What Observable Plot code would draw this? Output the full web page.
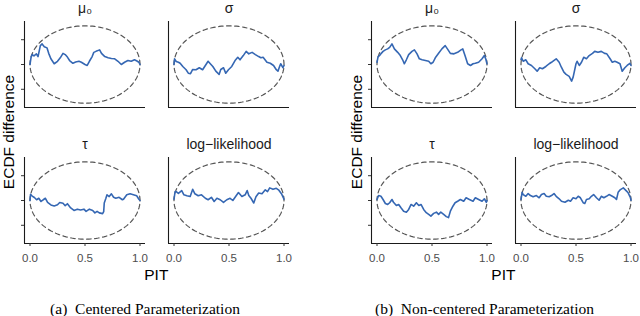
<!DOCTYPE html>
<html><head><meta charset="utf-8">
<script src="https://cdn.jsdelivr.net/npm/d3@7"></script>
<script src="https://cdn.jsdelivr.net/npm/@observablehq/plot@0.6"></script>
<style>
html,body{margin:0;padding:0;background:#fff;}
#fig{position:relative;width:640px;height:316px;overflow:hidden;font-family:"Liberation Sans",Arial,sans-serif;}
.panel{position:absolute;top:0;width:320px;height:290px;}
.cap{position:absolute;top:301px;font-family:"Liberation Serif","Times New Roman",serif;font-size:15.5px;line-height:16px;white-space:pre;transform:translateX(-50%);color:#000;}
</style></head><body><div id="fig"></div>
<script>
const pitTicks = [0, 0.5, 1];
const diffTicks = [-0.1, 0, 0.1];
const facetTitles = ["μ₀", "σ", "τ", "log−likelihood"];
const captions = ["(a)  Centered Parameterization", "(b)  Non-centered Parameterization"];
const bandHalfHeight = 0.156;

// (a) Centered parameterization: [PIT, ECDF difference]
const muC = [[0,0],[0.01,0.03],[0.02,0.04],[0.036,0.035],[0.058,0.043],[0.073,0.032],[0.094,0.076],[0.11,0.083],[0.13,0.072],[0.155,0.067],[0.17,0.045],[0.19,0.023],[0.22,0.003],[0.25,0.013],[0.275,0.027],[0.30,0.045],[0.32,0.04],[0.34,0.03],[0.36,0.016],[0.39,0.005],[0.415,0.01],[0.445,0.013],[0.467,0.009],[0.50,0],[0.52,-0.004],[0.54,0.013],[0.565,0.032],[0.58,0.049],[0.60,0.053],[0.633,0.059],[0.65,0.045],[0.68,0.032],[0.71,0.027],[0.74,0.024],[0.77,0.023],[0.80,0.013],[0.83,0],[0.86,0.009],[0.89,0.016],[0.92,0.013],[0.95,0.019],[0.976,0.013],[0.99,0.009],[1,0]];
const sigmaC = [[0,0],[0.005,0.023],[0.02,0.012],[0.04,0.009],[0.056,0.005],[0.08,-0.008],[0.11,-0.021],[0.13,-0.035],[0.15,-0.037],[0.17,-0.02],[0.20,-0.021],[0.23,-0.013],[0.26,-0.021],[0.285,-0.004],[0.31,0.013],[0.33,0.003],[0.353,-0.008],[0.38,-0.027],[0.41,-0.04],[0.425,-0.02],[0.45,-0.013],[0.47,-0.035],[0.495,-0.021],[0.525,-0.008],[0.555,0.016],[0.58,0.029],[0.60,0.019],[0.63,0.036],[0.656,0.053],[0.68,0.043],[0.71,0.049],[0.74,0.04],[0.77,0.032],[0.79,0.027],[0.81,0.029],[0.845,0.009],[0.875,0.005],[0.905,-0.004],[0.93,-0.021],[0.945,-0.027],[0.96,-0.008],[0.97,0.003],[0.99,-0.013],[1,-0.004]];
const tauC = [[0,0],[0.005,0.025],[0.02,0.018],[0.04,0.012],[0.06,0.003],[0.08,0.009],[0.10,-0.004],[0.12,0.003],[0.14,0.009],[0.16,-0.008],[0.19,-0.018],[0.22,-0.022],[0.25,-0.017],[0.27,-0.008],[0.30,-0.011],[0.32,-0.021],[0.34,-0.013],[0.37,-0.03],[0.40,-0.04],[0.43,-0.035],[0.46,-0.038],[0.49,-0.035],[0.51,-0.044],[0.54,-0.035],[0.57,-0.04],[0.59,-0.05],[0.61,-0.044],[0.63,-0.05],[0.66,-0.053],[0.67,-0.045],[0.675,-0.01],[0.69,0.009],[0.70,0.023],[0.72,0.016],[0.74,0.027],[0.76,0.013],[0.78,0.009],[0.81,0.013],[0.84,0.003],[0.85,0.005],[0.88,0.023],[0.91,0.027],[0.94,0.023],[0.97,0.019],[0.99,0.005],[1,0]];
const loglikC = [[0,0.005],[0.01,0.036],[0.02,0.036],[0.04,0.029],[0.07,0.04],[0.09,0.023],[0.117,0.019],[0.147,0.016],[0.17,0.045],[0.19,0.027],[0.22,0.019],[0.25,0.023],[0.285,0.009],[0.31,0.003],[0.34,0.013],[0.365,-0.004],[0.39,0.009],[0.42,0.003],[0.45,-0.008],[0.48,0.003],[0.51,0.009],[0.535,0],[0.565,0.019],[0.586,0.032],[0.617,0.016],[0.647,0.023],[0.665,0.04],[0.68,0.02],[0.70,0.009],[0.725,-0.01],[0.745,0.015],[0.77,0.03],[0.80,0.027],[0.83,0.043],[0.85,0.036],[0.87,0.051],[0.90,0.045],[0.93,0.049],[0.95,0.043],[0.98,0.025],[1,0.005]];

// (b) Non-centered parameterization
const muN = [[0,0.009],[0.009,0.03],[0.03,0.04],[0.055,0.053],[0.076,0.059],[0.097,0.063],[0.115,0.069],[0.136,0.083],[0.158,0.063],[0.188,0.049],[0.212,0.036],[0.233,0.019],[0.248,0.003],[0.267,0.019],[0.288,0.04],[0.318,0.053],[0.34,0.059],[0.364,0.043],[0.385,0.023],[0.41,0.019],[0.44,0.016],[0.47,0.013],[0.49,0.003],[0.51,0.009],[0.53,0.027],[0.56,0.045],[0.59,0.063],[0.62,0.076],[0.64,0.063],[0.667,0.045],[0.70,0.043],[0.733,0.049],[0.764,0.059],[0.78,0.063],[0.80,0.036],[0.824,0.003],[0.85,-0.004],[0.873,0.003],[0.894,0.005],[0.924,0.009],[0.955,0.023],[0.976,0.036],[0.988,0.023],[1,0.003]];
const sigmaN = [[0,0.02],[0.005,0.027],[0.02,0.013],[0.044,0.019],[0.065,0.003],[0.095,-0.004],[0.126,-0.017],[0.147,-0.027],[0.17,-0.013],[0.195,-0.017],[0.226,-0.008],[0.256,0.003],[0.277,0.009],[0.298,0.016],[0.32,0.023],[0.347,0.009],[0.367,-0.011],[0.39,-0.031],[0.41,-0.04],[0.438,-0.048],[0.46,-0.067],[0.474,-0.051],[0.50,0.003],[0.51,0.013],[0.53,-0.004],[0.55,0.009],[0.57,0.029],[0.595,0.023],[0.62,0.036],[0.65,0.045],[0.67,0.053],[0.70,0.049],[0.73,0.053],[0.76,0.045],[0.78,0.043],[0.81,0.023],[0.83,0.009],[0.853,0.013],[0.874,0.009],[0.90,0.003],[0.92,-0.027],[0.944,-0.013],[0.965,-0.004],[0.99,0.005],[1,-0.004]];
const tauN = [[0,0.004],[0.015,0.02],[0.036,0.017],[0.055,0.004],[0.076,-0.012],[0.097,-0.016],[0.115,-0.009],[0.136,0.004],[0.15,-0.007],[0.176,-0.02],[0.197,-0.016],[0.218,-0.029],[0.242,-0.043],[0.267,-0.047],[0.288,-0.036],[0.31,-0.016],[0.333,-0.023],[0.358,-0.009],[0.38,-0.02],[0.40,-0.016],[0.424,-0.036],[0.448,-0.049],[0.47,-0.056],[0.49,-0.063],[0.515,-0.052],[0.54,-0.047],[0.56,-0.056],[0.58,-0.047],[0.606,-0.056],[0.63,-0.065],[0.65,-0.069],[0.667,-0.043],[0.69,-0.023],[0.71,-0.009],[0.733,-0.003],[0.758,0.004],[0.788,-0.003],[0.81,0.011],[0.84,0.004],[0.873,-0.003],[0.894,0.011],[0.924,0.004],[0.955,-0.003],[0.976,0.007],[0.994,-0.007],[1,0]];
const loglikN = [[0,0.004],[0.01,0.033],[0.02,0.024],[0.044,0.017],[0.065,0.028],[0.086,0.02],[0.11,0.015],[0.14,0.02],[0.165,0.011],[0.186,0.024],[0.21,0.028],[0.23,0.017],[0.256,0.015],[0.277,0.02],[0.30,0.028],[0.32,0.017],[0.347,0.007],[0.368,-0.003],[0.40,-0.007],[0.43,0.001],[0.45,-0.003],[0.474,0.011],[0.50,0.007],[0.52,0.017],[0.54,0.011],[0.565,-0.009],[0.58,-0.012],[0.595,0.004],[0.62,0.007],[0.64,0.017],[0.66,0.024],[0.686,0.011],[0.71,0.001],[0.73,0.017],[0.753,0.011],[0.777,0.017],[0.80,0.024],[0.83,0.017],[0.853,0.011],[0.868,0.004],[0.883,0.033],[0.904,0.044],[0.93,0.051],[0.953,0.041],[0.974,0.031],[0.995,0.011],[1,0.001]];

const cells = [{col:0,row:0},{col:1,row:0},{col:0,row:1},{col:1,row:1}];

// confidence band drawn as an ellipse around zero
const band = d3.range(0, 361, 2).map(a => {
  const t = a * Math.PI / 180;
  return {x: 0.5 + 0.5 * Math.cos(t), y: bandHalfHeight * Math.sin(t)};
});

function panel(series, {left, marginLeft, marginRight, yLabelX, caption, capX}) {
  const rows = series.flatMap((pts, i) => pts.map(([x, y]) => ({x, y, col: cells[i].col, row: cells[i].row})));
  const titles = facetTitles.map((t, i) => ({title: t, ...cells[i]}));
  const W = 320, H = 290, mt = 20.7, mb = 46.7;
  const svg = Plot.plot({
    width: W, height: H,
    marginLeft, marginRight, marginTop: mt, marginBottom: mb,
    style: {fontFamily: "Liberation Sans, Arial, sans-serif", fontSize: "11.5px", background: "white", overflow: "visible"},
    x: {domain: [-0.05, 1.05]},
    y: {domain: [-0.1735, 0.1735]},
    fx: {domain: [0, 1], paddingInner: 0.159, paddingOuter: 0, axis: null},
    fy: {domain: [0, 1], paddingInner: 0.37, paddingOuter: 0, axis: null},
    marks: [
      Plot.line(band, {x: "x", y: "y", stroke: "#555", strokeWidth: 1.2, strokeDasharray: "4.5,3.5"}),
      Plot.line(rows, {x: "x", y: "y", fx: "col", fy: "row", stroke: "#3567b3", strokeWidth: 1.6}),
      Plot.ruleX([-0.05], {stroke: "#1a1a1a", strokeWidth: 1.1}),
      Plot.ruleY([-0.1735], {stroke: "#1a1a1a", strokeWidth: 1.1}),
      Plot.axisY({ticks: diffTicks, tickFormat: () => "", tickSize: 3, stroke: "#333", facetAnchor: "left", label: null}),
      Plot.axisX({ticks: pitTicks, tickFormat: d3.format(".1f"), tickSize: 3, tickPadding: 7, fill: "#4d4d4d", stroke: "#333", fontSize: 11.5, facetAnchor: "bottom", label: null}),
      Plot.text(titles, {fx: "col", fy: "row", text: "title", frameAnchor: "top", lineAnchor: "middle", dy: -12.5, fontSize: 14, fill: "#1a1a1a"})
    ]
  });
  const s = d3.select(svg);
  s.append("text").attr("transform", `translate(${yLabelX},${(mt + H - mb) / 2}) rotate(-90)`)
    .attr("text-anchor", "middle").attr("font-size", 15.5).attr("fill", "#000").text("ECDF difference");
  s.append("text").attr("x", (marginLeft + W - marginRight) / 2).attr("y", 280)
    .attr("text-anchor", "middle").attr("font-size", 15.5).attr("fill", "#000").text("PIT");
  const div = document.createElement("div");
  div.className = "panel";
  div.style.left = left + "px";
  div.appendChild(svg);
  document.getElementById("fig").appendChild(div);
  const cap = document.createElement("div");
  cap.className = "cap";
  cap.style.left = capX + "px";
  cap.textContent = caption;
  document.getElementById("fig").appendChild(cap);
}

panel([muC, sigmaC, tauC, loglikC], {left: 0, marginLeft: 23.3, marginRight: 30.7, yLabelX: 14, caption: captions[0], capX: 145});
panel([muN, sigmaN, tauN, loglikN], {left: 320, marginLeft: 50.3, marginRight: 3.5, yLabelX: 41.5, caption: captions[1], capX: 484.5});
</script></body></html>
